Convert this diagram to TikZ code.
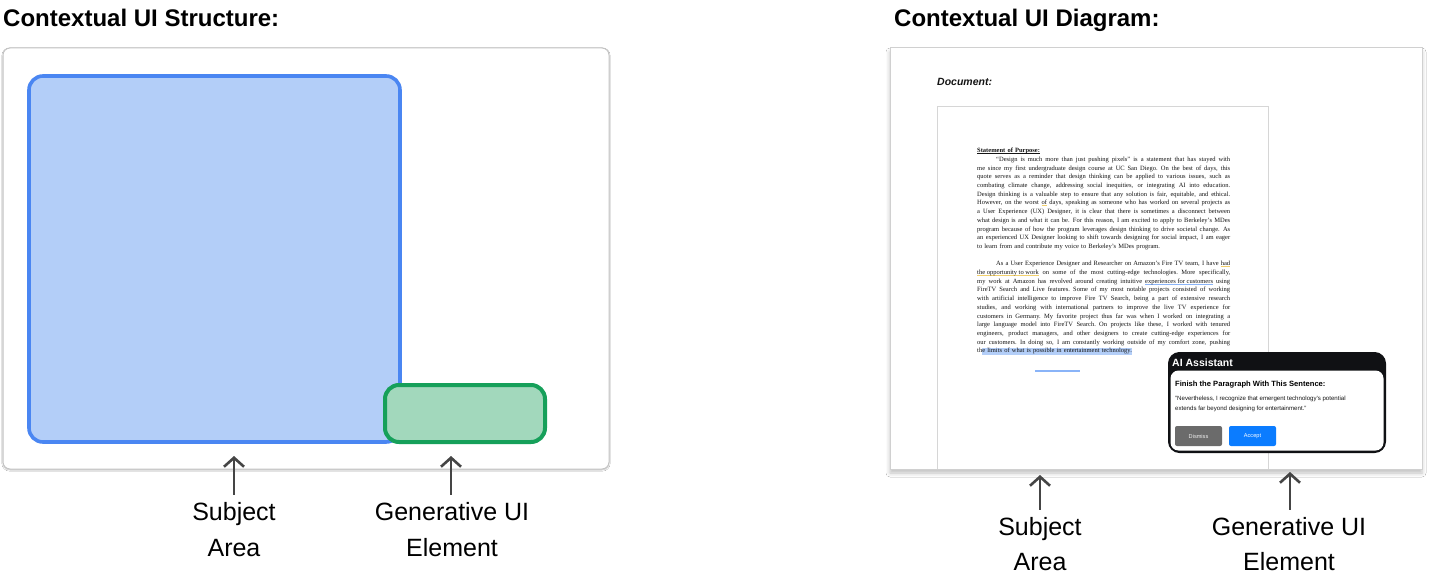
\documentclass[tikz,border=0pt]{standalone}
\usepackage{fontspec}
\setmainfont{Liberation Sans}
\newfontfamily\serifdoc{Liberation Serif}
\usetikzlibrary{arrows.meta,shadows.blur}
\definecolor{subjfill}{HTML}{B3CEF8}
\definecolor{subjline}{HTML}{4A86F2}
\definecolor{genfill}{HTML}{A2D8BC}
\definecolor{genline}{HTML}{16A05A}
\definecolor{panelline}{HTML}{C4C4C4}
\definecolor{arrgray}{HTML}{454545}
\definecolor{pageline}{HTML}{D6D6D6}
\definecolor{aiblack}{HTML}{101114}
\definecolor{dismissgray}{HTML}{6B6B6B}
\definecolor{acceptblue}{HTML}{0B7CFF}
\definecolor{hlyel}{HTML}{F2CF6B}
\definecolor{hlblue}{HTML}{8AB4F8}
\definecolor{hlbg}{HTML}{B3CEF8}
\definecolor{doctextc}{HTML}{151515}
\newcommand\ulK[1]{\setbox0\hbox{#1}\rlap{\rule[-1.1pt]{\wd0}{0.45pt}}\box0\relax}
\newcommand\ulY[1]{\setbox0\hbox{#1}\rlap{\color{hlyel}\rule[-1.3pt]{\wd0}{1pt}}\box0\relax}
\newcommand\ulB[1]{\setbox0\hbox{#1}\rlap{\color{hlblue}\rule[-1.3pt]{\wd0}{1pt}}\box0\relax}
\newcommand\hlB[1]{\setbox0\hbox{#1}\rlap{\color{hlbg}\rule[-1.8pt]{\wd0}{6.8pt}}\box0\relax}
\newcommand\jl[1]{\leavevmode\hbox to 253pt{\spaceskip=0.25em plus 3em minus 0.08em\relax #1}\\}
\tikzset{
  heading/.style={font=\bfseries\fontsize{24}{28}\selectfont, inner sep=0, anchor=base west},
  lbl/.style={font=\fontsize{25}{30}\selectfont, inner sep=0, anchor=base, text=black},
  arr/.style={draw=arrgray, line width=2.6pt, shorten <=7pt, -{Straight Barb[length=9pt,width=20pt]}},
  panel/.style={draw=panelline, line width=1pt, fill=white},
}
\begin{document}
\begin{tikzpicture}[x=1pt,y=-1pt]
\useasboundingbox (0,0) rectangle (1434,586);
\fill[white] (0,0) rectangle (1434,586);

% ---------- Left: structure ----------
\node[heading] (hL) at (3,27) {Contextual UI Structure:};
\node[panel, rounded corners=7pt, minimum width=606pt, minimum height=421pt,
      blur shadow={shadow xshift=0pt, shadow yshift=-1pt, shadow blur radius=1.2pt, shadow opacity=25}]
      (panelL) at (306,258.5) {};
\node[draw=subjline, fill=subjfill, line width=3.6pt, rounded corners=14pt,
      minimum width=371pt, minimum height=366pt, inner sep=0] (subj) at (214.5,259) {};
\node[draw=genline, fill=genfill, line width=4pt, rounded corners=14pt,
      minimum width=160pt, minimum height=57pt, inner sep=0] (gen) at (465,413.5) {};

\node[lbl] (subjL1) at (234,520) {Subject};
\node[lbl] (subjL2) at (234,556) {Area};
\node[lbl] (genL1) at (452,520) {Generative UI};
\node[lbl] (genL2) at (452,556) {Element};
\coordinate (subjLtip) at (234,456);
\coordinate (genLtip) at (451,456);
\draw[arr] (subjL1.north) -- (subjLtip);
\draw[arr] (subjL1.north -| genLtip) -- (genLtip);

% ---------- Right: diagram ----------
\node[heading] (hR) at (894,27) {Contextual UI Diagram:};
\node[panel, draw=panelline!80, minimum width=532pt, minimum height=421pt,
      blur shadow={shadow xshift=0pt, shadow yshift=-4pt, shadow blur radius=4pt, shadow opacity=25}]
      (panelR) at (1156,258.5) {};
\node[font=\bfseries\itshape\fontsize{10.5}{12}\selectfont, inner sep=0, anchor=base west, text=doctextc]
      (docl) at (937,85) {Document:};
\draw[pageline, line width=1pt] (937,469) -- (937,106) -- (1268,106) -- (1268,469);
\coordinate (pagetl) at (937,106);

\node[inner sep=0, anchor=north west, text width=253pt, align=left, text=doctextc,
      font=\serifdoc\fontsize{6.5}{8.7}\selectfont] (doctext) at (977,148) {%
\ulK{\textbf{Statement of Purpose:}}\\
\jl{\kern19pt“Design is much more than just pushing pixels” is a statement that has stayed with}
\jl{me since my first undergraduate design course at UC San Diego. On the best of days, this}
\jl{quote serves as a reminder that design thinking can be applied to various issues, such as}
\jl{combating climate change, addressing social inequities, or integrating AI into education.}
\jl{Design thinking is a valuable step to ensure that any solution is fair, equitable, and ethical.}
\jl{However, on the worst \ulY{of} days, speaking as someone who has worked on several projects as}
\jl{a User Experience (UX) Designer, it is clear that there is sometimes a disconnect between}
\jl{what design is and what it can be. For this reason, I am excited to apply to Berkeley’s MDes}
\jl{program because of how the program leverages design thinking to drive societal change. As}
\jl{an experienced UX Designer looking to shift towards designing for social impact, I am eager}
to learn from and contribute my voice to Berkeley’s MDes program.\\
\mbox{}\\
\jl{\kern19pt As a User Experience Designer and Researcher on Amazon’s Fire TV team, I have \ulY{had}}
\jl{\ulY{the opportunity to work} on some of the most cutting-edge technologies. More specifically,}
\jl{my work at Amazon has revolved around creating intuitive \ulB{experiences for customers} using}
\jl{FireTV Search and Live features. Some of my most notable projects consisted of working}
\jl{with artificial intelligence to improve Fire TV Search, being a part of extensive research}
\jl{studies, and working with international partners to improve the live TV experience for}
\jl{customers in Germany. My favorite project thus far was when I worked on integrating a}
\jl{large language model into FireTV Search. On projects like these, I worked with tenured}
\jl{engineers, product managers, and other designers to create cutting-edge experiences for}
\jl{our customers. In doing so, I am constantly working outside of my comfort zone, pushing}
th\hlB{e limits of what is possible in entertainment technology.}};
\coordinate (cursA) at (1035,371);
\coordinate (cursB) at (1080,371);
\draw[hlblue, line width=2pt] (cursA) -- (cursB);

% AI assistant
\node[fill=aiblack, draw=aiblack, line width=1pt, rounded corners=11pt,
      minimum width=217pt, minimum height=100pt, inner sep=0] (ai) at (1277,402.5) {};
\node[fill=white, rounded corners=8pt, minimum width=213pt, minimum height=80pt, inner sep=0]
      (aibody) at (1277,410.5) {};
\node[font=\bfseries\fontsize{10.5}{12}\selectfont, text=white, inner sep=0, anchor=base west]
      (aititle) at (1172,366) {AI Assistant};
\node[font=\bfseries\fontsize{7.6}{9}\selectfont, text=black, inner sep=0, anchor=base west]
      (aihead) at (1175,386) {Finish the Paragraph With This Sentence:};
\node[font=\fontsize{6.1}{10}\selectfont, text=doctextc, inner sep=0, anchor=north west, align=left]
      (aiquote) at (1175,395.5) {"Nevertheless, I recognize that emergent technology's potential\\extends far beyond designing for entertainment."};
\node[fill=dismissgray, rounded corners=2pt, minimum width=47pt, minimum height=20pt, inner sep=0,
      text=white!90!gray, font=\fontsize{5.6}{7}\selectfont] (dismiss) at (1198.5,436) {Dismiss};
\node[fill=acceptblue, rounded corners=2pt, minimum width=47pt, minimum height=20pt, inner sep=0,
      text=white, font=\fontsize{5.6}{7}\selectfont] (accept) at (1252.5,436) {Accept};

\node[lbl] (subjR1) at (1040,535) {Subject};
\node[lbl] (subjR2) at (1040,570) {Area};
\node[lbl] (genR1) at (1289,535) {Generative UI};
\node[lbl] (genR2) at (1289,570) {Element};
\coordinate (subjRtip) at (1040,475);
\coordinate (genRtip) at (1290,472);
\draw[arr] (subjR1.north) -- (subjRtip);
\draw[arr] (subjR1.north -| genRtip) -- (genRtip);
\end{tikzpicture}
\end{document}
